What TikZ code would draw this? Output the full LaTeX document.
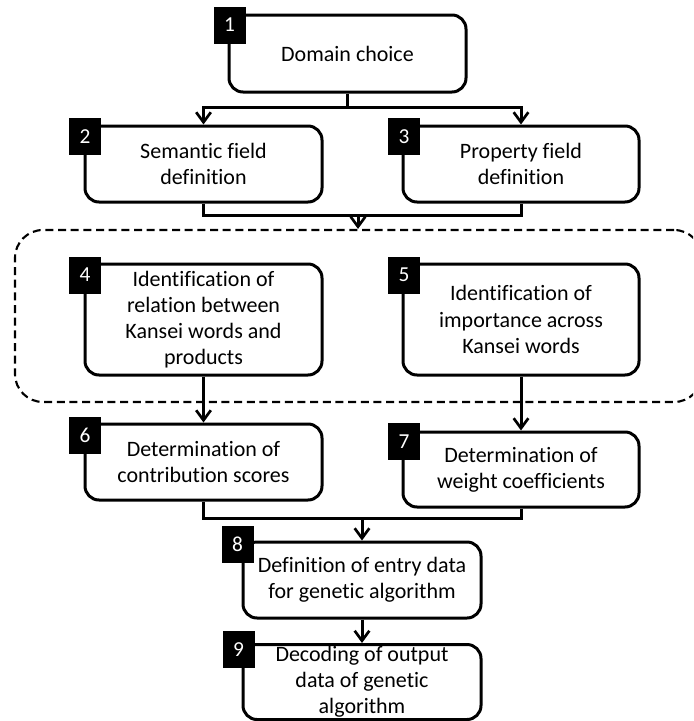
\documentclass[tikz,border=0pt]{standalone}
\usepackage{fontspec}
\setmainfont[Ligatures=NoCommon]{Carlito}
\usetikzlibrary{arrows.meta}
\begin{document}
\begin{tikzpicture}[x=0.75pt,y=-0.75pt,
  txt/.style={font=\fontsize{16.5}{19.6}\selectfont, align=center},
  box/.style={draw=black, line width=2.25pt, rounded corners=10.5pt, fill=white, inner sep=0pt, txt},
  numbox/.style={fill=black, text=white, minimum width=24pt, minimum height=27.75pt, inner sep=0pt, font=\fontsize{16}{19.6}\selectfont},
  link/.style={line width=2.25pt},
  arr/.style={link, -{Straight Barb[length=7.5pt,width=11pt,line width=2pt]}},
  group/.style={draw=black, line width=1.6pt, dash pattern=on 6pt off 3.5pt, rounded corners=21pt, minimum width=515.25pt, minimum height=129pt, inner sep=0pt}
]
\useasboundingbox (0,0) rectangle (693,721);
\clip (0,0) rectangle (693,721);

% dashed group
\node[group] (grp) at (358.5,316) {};

% boxes
\node[box, minimum width=177.75pt, minimum height=57.75pt] (b1) at (347.5,53.5) {Domain choice};
\node[box, minimum width=177.75pt, minimum height=57pt] (b2) at (203.5,164) {Semantic field\\definition};
\node[box, minimum width=177pt, minimum height=57pt] (b3) at (521,164) {Property field\\definition};
\node[box, minimum width=177.75pt, minimum height=83.25pt] (b4) at (203.5,319.5) {Identification of\\relation between\\Kansei words and\\products};
\node[box, minimum width=177pt, minimum height=83.25pt] (b5) at (521,319.5) {Identification of\\importance across\\Kansei words};
\node[box, minimum width=177.75pt, minimum height=57pt] (b6) at (203.5,462) {Determination of\\contribution scores};
\node[box, minimum width=177pt, minimum height=56.25pt] (b7) at (521,469.5) {Determination of\\weight coefficients};
\node[box, minimum width=178.5pt, minimum height=57pt] (b8) at (362,580) {Definition of entry data\\for genetic algorithm};
\node[box, minimum width=178.5pt, minimum height=56.25pt] (b9) at (362,682) {};
\node[txt, inner sep=0pt] (t9) at (b9.center) {Decoding of output\\data of genetic\\algorithm};

% number squares
\node[numbox] (n1) at (229.5,25) {1};
\node[numbox] (n2) at (85,136.5) {2};
\node[numbox] (n3) at (404,136.5) {3};
\node[numbox] (n4) at (85,275) {4};
\node[numbox] (n5) at (404,275) {5};
\node[numbox] (n6) at (85,435) {6};
\node[numbox] (n7) at (404,441.5) {7};
\node[numbox] (n8) at (237.5,544.5) {8};
\node[numbox] (n9) at (238.5,649.5) {9};

% connectors
\coordinate (j1) at (347.5,107);
\draw[link] (b1.south) -- (j1);
\draw[arr] (j1) -| (b2.north);
\draw[arr] (j1) -| (b3.north);

\coordinate (j2) at (358,215);
\draw[link] (b2.south) |- (j2);
\draw[link] (b3.south) |- (j2);
\draw[arr] (j2) -- (j2 |- grp.north);

\draw[arr] (b4.south) -- (b6.north);
\draw[arr] (b5.south) -- (b7.north);

\coordinate (j3) at (362,518);
\draw[link] (b6.south) |- (j3);
\draw[link] (b7.south) |- (j3);
\draw[arr] (j3) -- (b8.north);
\draw[arr] (b8.south) -- (b9.north);
\end{tikzpicture}
\end{document}
